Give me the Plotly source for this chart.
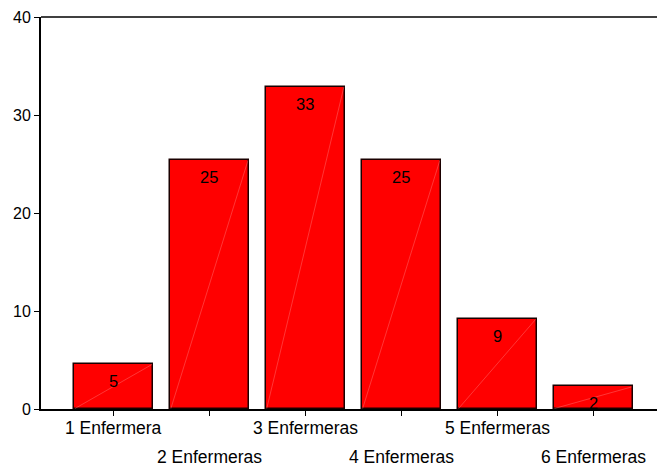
import plotly.graph_objects as go

categories = ["1 Enfermera", "2 Enfermeras", "3 Enfermeras", "4 Enfermeras", "5 Enfermeras", "6 Enfermeras"]
values = [4.6, 25.4, 32.9, 25.4, 9.2, 2.3]
value_labels = ["5", "25", "33", "25", "9", "2"]
y_ticks = [0, 10, 20, 30, 40]

BAR_W = 0.824
FONT = "Liberation Sans, Arial, sans-serif"
xs = list(range(len(categories)))

fig = go.Figure()
fig.add_trace(go.Bar(
    x=xs, y=values, width=BAR_W,
    marker=dict(color="#ff0000", line=dict(color="#1a0000", width=1.5)),
    hoverinfo="skip", showlegend=False,
))

# faint diagonal highlight inside each bar (bottom-left to top-right)
for x, v in zip(xs, values):
    fig.add_trace(go.Scatter(
        x=[x - BAR_W / 2 + 0.01, x + BAR_W / 2 - 0.01], y=[0.05, v - 0.05],
        mode="lines", line=dict(color="rgba(255,150,150,0.6)", width=0.6),
        hoverinfo="skip", showlegend=False,
    ))

# value labels inside bars near the top
for x, v, t in zip(xs, values, value_labels):
    fig.add_annotation(x=x, y=v, text=t, xref="x", yref="y",
                       yanchor="top", yshift=-6, showarrow=False,
                       font=dict(family=FONT, size=16.5, color="black"))

# staggered category labels
for i, (x, c) in enumerate(zip(xs, categories)):
    fig.add_annotation(x=x, y=0, text=c, xref="x", yref="paper",
                       yanchor="middle", yshift=-19 if i % 2 == 0 else -48,
                       showarrow=False,
                       font=dict(family=FONT, size=17.5, color="black"))

fig.update_layout(
    width=657, height=466,
    margin=dict(l=41, r=0, t=17, b=57),
    paper_bgcolor="white", plot_bgcolor="white",
    bargap=0,
    xaxis=dict(range=[-0.756, 5.667], tickmode="array", tickvals=xs,
               ticktext=["" for _ in xs], ticks="outside", ticklen=5,
               tickwidth=1, tickcolor="black",
               showline=True, linecolor="black", linewidth=1.5, mirror=False,
               showgrid=False, zeroline=False),
    yaxis=dict(range=[0, 40], tickmode="array", tickvals=y_ticks,
               ticks="outside", ticklen=5, tickwidth=1, tickcolor="black",
               showline=True, linecolor="black", linewidth=2,
               showgrid=False, zeroline=False,
               tickfont=dict(family=FONT, size=16, color="black")),
)
# top border line
fig.add_shape(type="line", xref="paper", yref="paper", x0=0, x1=1, y0=1, y1=1,
              line=dict(color="black", width=1.5))

fig.write_html("out.html")
